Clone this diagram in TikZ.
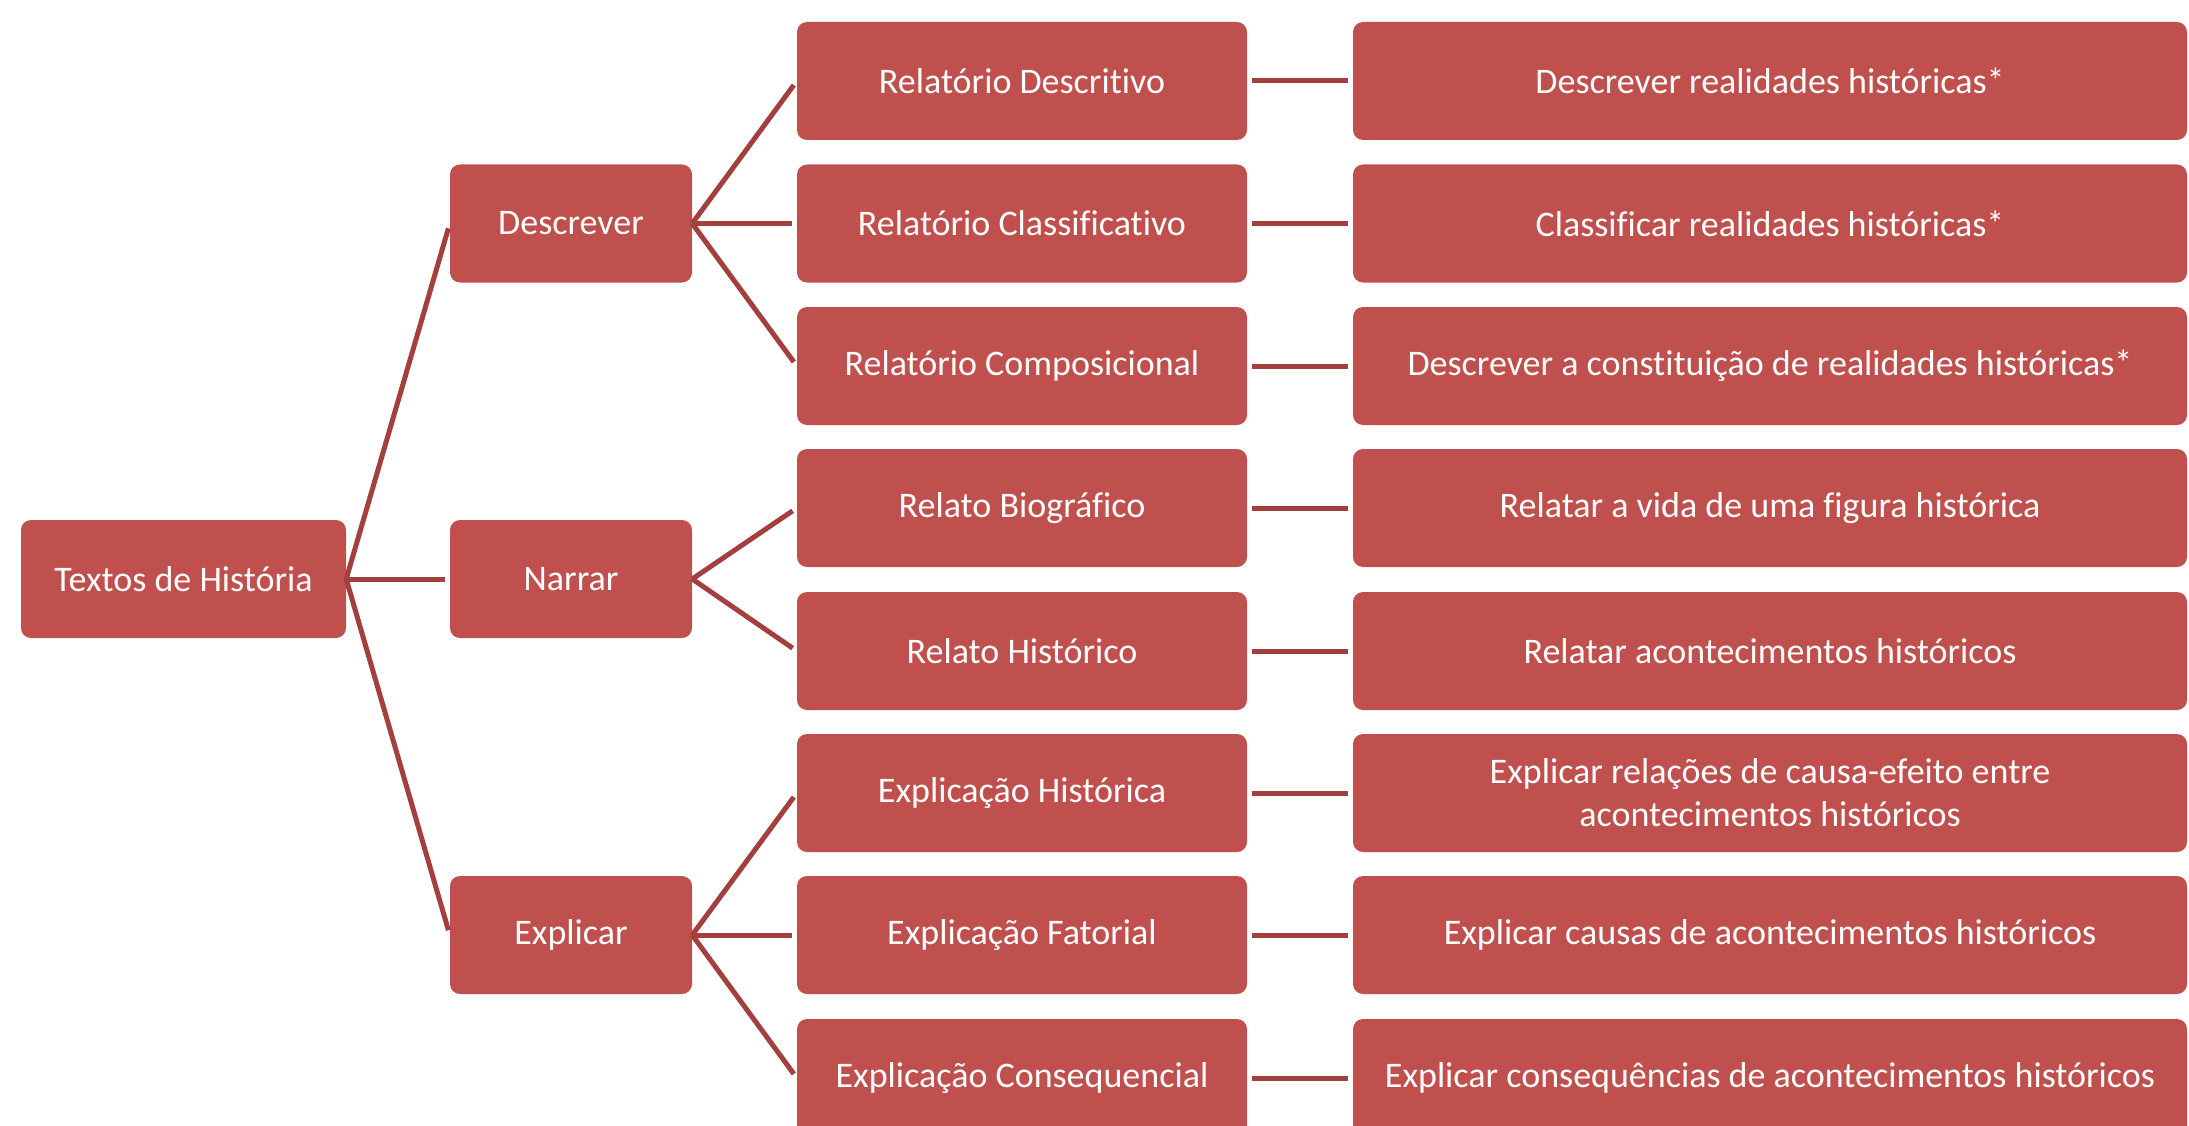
\documentclass[tikz,border=0pt]{standalone}
\usepackage{fontspec}
\setmainfont[Ligatures={NoCommon}]{Carlito}
\definecolor{boxred}{HTML}{C0504D}
\definecolor{linered}{HTML}{A3403D}
\begin{document}
\begin{tikzpicture}[x=1pt,y=-1pt,
  box/.style={rectangle, rounded corners=10pt, fill=boxred, text=white, inner sep=0pt,
    align=center, minimum height=118pt, font=\fontsize{36}{43}\selectfont},
  rootbox/.style={box, minimum width=325pt},
  midbox/.style={box, minimum width=242pt},
  typebox/.style={box, minimum width=450pt},
  aimbox/.style={box, minimum width=834pt},
  link/.style={draw=linered, line width=5pt, shorten >=5pt}]
\useasboundingbox (0,0) rectangle (2189,1126);
% root
\node[rootbox] (root) at (183.5,579) {Textos de História};
% level 2
\node[midbox] (desc) at (571,223.5) {Descrever};
\node[midbox] (narr) at (571,579) {Narrar};
\node[midbox] (expl) at (571,935) {Explicar};
% level 3
\node[typebox] (t1) at (1022,81) {Relatório Descritivo};
\node[typebox] (t2) at (1022,223.5) {Relatório Classificativo};
\node[typebox] (t3) at (1022,366) {Relatório Composicional};
\node[typebox] (t4) at (1022,508) {Relato Biográfico};
\node[typebox] (t5) at (1022,651) {Relato Histórico};
\node[typebox] (t6) at (1022,793) {Explicação Histórica};
\node[typebox] (t7) at (1022,935) {Explicação Fatorial};
\node[typebox] (t8) at (1022,1078) {Explicação Consequencial};
% level 4
\node[aimbox] (a1) at (1770,81) {Descrever realidades históricas*};
\node[aimbox] (a2) at (1770,223.5) {Classificar realidades históricas*};
\node[aimbox] (a3) at (1770,366) {Descrever a constituição de realidades históricas*};
\node[aimbox] (a4) at (1770,508) {Relatar a vida de uma figura histórica};
\node[aimbox] (a5) at (1770,651) {Relatar acontecimentos históricos};
\node[aimbox] (a6) at (1770,793) {Explicar relações de causa-efeito entre\\acontecimentos históricos};
\node[aimbox] (a7) at (1770,935) {Explicar causas de acontecimentos históricos};
\node[aimbox] (a8) at (1770,1078) {Explicar consequências de acontecimentos históricos};
% connectors
\foreach \m in {desc,narr,expl} \draw[link] (root.east) -- (\m.west);
\foreach \t in {t1,t2,t3} \draw[link] (desc.east) -- (\t.west);
\foreach \t in {t4,t5} \draw[link] (narr.east) -- (\t.west);
\foreach \t in {t6,t7,t8} \draw[link] (expl.east) -- (\t.west);
\foreach \i in {1,...,8} \draw[link, shorten <=5pt] (t\i.east) -- (a\i.west);
\end{tikzpicture}
\end{document}
